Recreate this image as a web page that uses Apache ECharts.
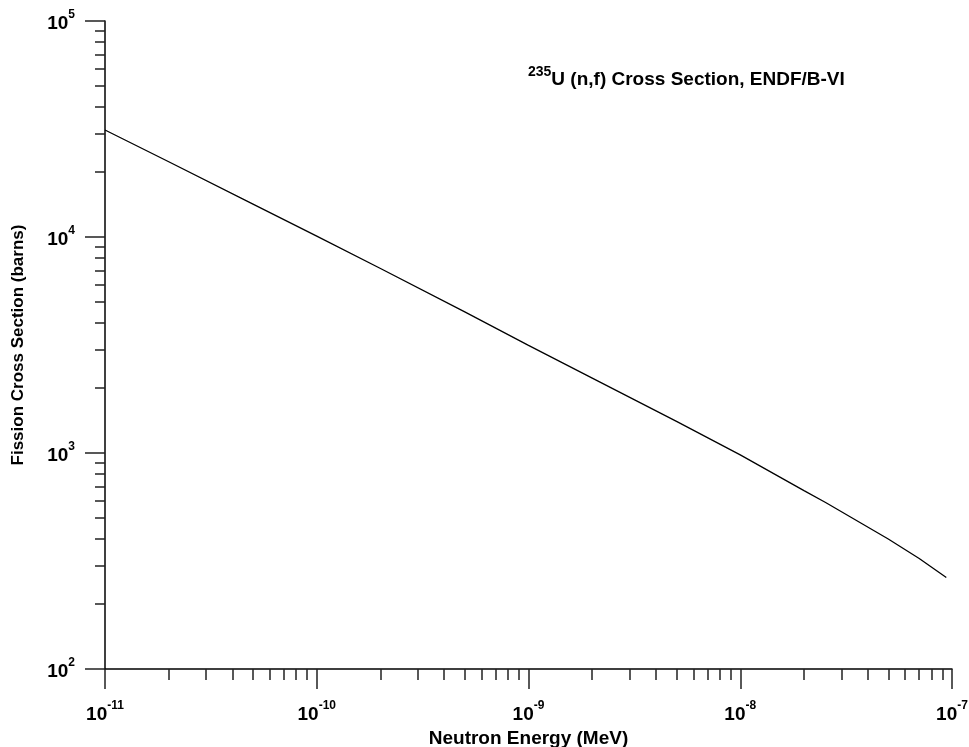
<!DOCTYPE html>
<html>
<head>
<meta charset="utf-8">
<title>235U (n,f) Cross Section</title>
<script src="https://cdn.jsdelivr.net/npm/echarts@6/dist/echarts.min.js"></script>
<style>
    html, body { margin: 0; padding: 0; background: #fff; }
    #chart { width: 969px; height: 747px; }
</style>
</head>
<body>
<div id="chart"></div>
<script>
    // neutron energy (MeV) and fission cross section (barns)
    const energy = [1e-11, 2e-11, 5e-11, 1e-10, 2e-10, 5e-10, 1e-9, 2e-9, 5e-9, 1e-8, 2e-8, 2.53e-8, 5e-8, 7e-8, 9.4e-8]
    const sigma = [31300, 22300, 14200, 10100, 7150, 4500, 3150, 2220, 1400, 980, 670, 590, 400, 325, 265]

    const xMajorTicks = [1e-11, 1e-10, 1e-9, 1e-8, 1e-7]
    const yMajorTicks = [1e2, 1e3, 1e4, 1e5]
    const minorSteps = [2, 3, 4, 5, 6, 7, 8, 9]

    // minor ticks 2..9 inside each decade
    const minorOf = (majors) => {
        const out = []
        for (let i = 0; i < majors.length - 1; i++) {
            minorSteps.forEach(m => out.push(majors[i] * m))
        }
        return out
    }
    const xMinorTicks = minorOf(xMajorTicks)
    const yMinorTicks = minorOf(yMajorTicks)

    const FONT = '"Liberation Sans", Arial, sans-serif'
    const powLabel = (v) => {
        const e = Math.round(Math.log10(v))
        return '{b|10}{s|' + e + '}'
    }
    const labelRich = {
        b: { fontFamily: FONT, fontWeight: 'bold', fontSize: 19, color: '#000', lineHeight: 24, verticalAlign: 'bottom' },
        s: { fontFamily: FONT, fontWeight: 'bold', fontSize: 12, color: '#000', lineHeight: 24, verticalAlign: 'top' }
    }

    const chart = echarts.init(document.getElementById('chart'))

    const option = {
        backgroundColor: '#fff',
        animation: false,
        title: {
            text: '{s|235}{m|U (n,f) Cross Section, ENDF/B-VI}',
            left: 523,
            top: 60,
            textStyle: {
                rich: {
                    s: { fontFamily: FONT, fontWeight: 'bold', fontSize: 14, color: '#000', lineHeight: 24, verticalAlign: 'top' },
                    m: { fontFamily: FONT, fontWeight: 'bold', fontSize: 19, color: '#000', lineHeight: 24, verticalAlign: 'bottom' }
                }
            }
        },
        grid: {
            left: 105,
            right: 17,
            top: 21,
            bottom: 78,
            containLabel: false,
            outerBoundsMode: 'none'
        },
        xAxis: [
            {
                type: 'log',
                logBase: 10,
                min: 1e-11,
                max: 1e-7,
                position: 'bottom',
                name: 'Neutron Energy (MeV)',
                nameLocation: 'middle',
                nameGap: 56,
                nameTextStyle: { fontFamily: FONT, fontWeight: 'bold', fontSize: 19, color: '#000' },
                axisLine: { show: true, lineStyle: { color: '#000', width: 1.5 } },
                axisTick: { show: true, length: 20, customValues: xMajorTicks, lineStyle: { color: '#222', width: 1.5 } },
                axisLabel: { margin: 31, customValues: xMajorTicks, formatter: powLabel, rich: labelRich },
                splitLine: { show: false },
                minorTick: { show: false }
            },
            {
                type: 'log',
                logBase: 10,
                min: 1e-11,
                max: 1e-7,
                position: 'bottom',
                axisLine: { show: false },
                axisTick: { show: true, length: 11, customValues: xMinorTicks, lineStyle: { color: '#222', width: 1.5 } },
                axisLabel: { show: false },
                splitLine: { show: false }
            }
        ],
        yAxis: [
            {
                type: 'log',
                logBase: 10,
                min: 1e2,
                max: 1e5,
                position: 'left',
                name: 'Fission Cross Section (barns)',
                nameLocation: 'middle',
                nameGap: 78,
                nameRotate: 90,
                nameTextStyle: { fontFamily: FONT, fontWeight: 'bold', fontSize: 17, color: '#000' },
                axisLine: { show: true, lineStyle: { color: '#000', width: 1.5 } },
                axisTick: { show: true, length: 20, customValues: yMajorTicks, lineStyle: { color: '#222', width: 1.5 } },
                axisLabel: { margin: 30, customValues: yMajorTicks, formatter: powLabel, rich: labelRich },
                splitLine: { show: false },
                minorTick: { show: false }
            },
            {
                type: 'log',
                logBase: 10,
                min: 1e2,
                max: 1e5,
                position: 'left',
                axisLine: { show: false },
                axisTick: { show: true, length: 10, customValues: yMinorTicks, lineStyle: { color: '#222', width: 1.5 } },
                axisLabel: { show: false },
                splitLine: { show: false }
            }
        ],
        series: [
            {
                type: 'line',
                xAxisIndex: 0,
                yAxisIndex: 0,
                data: energy.map((e, i) => [e, sigma[i]]),
                showSymbol: false,
                symbol: 'none',
                smooth: false,
                lineStyle: { color: '#000', width: 1.3 }
            }
        ]
    }

    chart.setOption(option)
</script>
</body>
</html>
